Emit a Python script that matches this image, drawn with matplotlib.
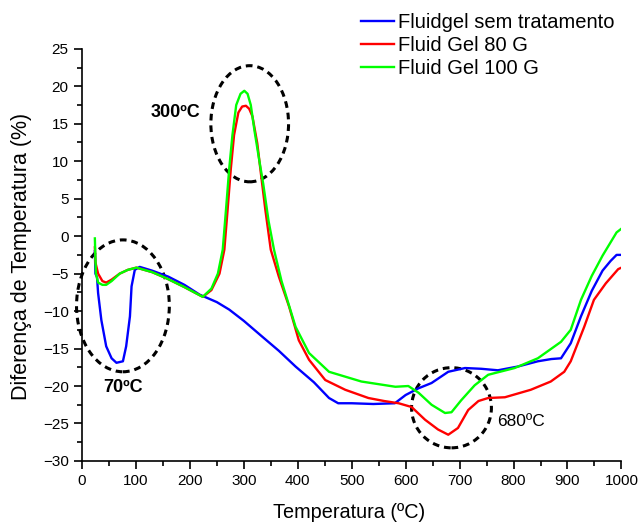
import matplotlib.pyplot as plt
from matplotlib.patches import Ellipse
from matplotlib.ticker import MultipleLocator

plt.rcParams['font.family'] = ['Liberation Sans', 'DejaVu Sans']

# Fluidgel sem tratamento
blueX = [24, 25, 28, 30, 36, 45, 55, 64, 76, 82, 89, 92, 98, 107, 130, 160, 190, 218, 250,
         273, 300, 334, 365, 396, 430, 458, 475, 500, 540, 580, 600, 624, 648, 679, 710,
         740, 771, 808, 845, 870, 888, 906, 925, 945, 965, 980, 991, 1000]
blueY = [-2.0, -5.0, -5.5, -7.6, -11.2, -14.7, -16.3, -16.9, -16.7, -14.7, -10.7, -6.7, -4.5,
         -4.1, -4.6, -5.4, -6.5, -7.8, -8.8, -9.8, -11.3, -13.4, -15.3, -17.4, -19.5, -21.6,
         -22.3, -22.3, -22.4, -22.3, -21.2, -20.3, -19.6, -18.1, -17.6, -17.7, -17.9, -17.4,
         -16.7, -16.4, -16.3, -14.3, -10.7, -7.3, -4.6, -3.3, -2.5, -2.5]

# Fluid Gel 80 G
redX = [24, 25, 30, 38, 45, 55, 70, 85, 101, 130, 156, 190, 224, 240, 255, 264, 270, 276,
        282, 290, 297, 304, 310, 316, 325, 331, 340, 350, 365, 384, 402, 421, 451, 488, 531,
        560, 587, 611, 636, 660, 679, 697, 716, 735, 753, 784, 832, 869, 894, 906, 931, 949,
        971, 994, 1000]
redY = [-1.5, -3.5, -5.0, -6.0, -6.2, -5.8, -5.0, -4.5, -4.2, -4.8, -5.6, -6.8, -8.1, -7.2,
        -5.0, -1.8, 3.5, 9.0, 13.5, 16.5, 17.3, 17.4, 17.0, 16.0, 12.4, 8.8, 3.5, -1.8, -5.4,
        -9.4, -13.9, -16.5, -19.2, -20.5, -21.6, -22.0, -22.3, -22.8, -24.5, -25.8, -26.5,
        -25.6, -23.2, -22.0, -21.6, -21.5, -20.5, -19.4, -18.1, -16.7, -12.1, -8.5, -6.3,
        -4.4, -4.2]

# Fluid Gel 100 G
greenX = [24, 25, 26, 30, 38, 45, 55, 70, 85, 101, 130, 156, 190, 224, 240, 252, 261, 267,
          273, 279, 286, 294, 301, 307, 313, 320, 329, 336, 346, 356, 370, 396, 421, 458, 518,
          581, 605, 624, 648, 673, 685, 703, 728, 753, 802, 845, 888, 906, 925, 945, 965, 991,
          1000]
greenY = [-0.3, -3.0, -5.0, -6.2, -6.5, -6.5, -6.0, -5.0, -4.5, -4.2, -4.8, -5.6, -6.8, -8.1,
          -7.0, -5.0, -1.8, 3.5, 9.0, 13.5, 17.5, 19.0, 19.4, 19.0, 17.5, 14.0, 10.0, 7.0, 2.0,
          -1.8, -6.0, -12.1, -15.6, -18.1, -19.4, -20.1, -20.0, -20.9, -22.5, -23.6, -23.5,
          -21.9, -19.9, -18.5, -17.6, -16.3, -14.1, -12.5, -8.5, -5.3, -2.6, 0.5, 1.0]

labels = ['Fluidgel sem tratamento', 'Fluid Gel 80 G', 'Fluid Gel 100 G']

# highlighted regions: (center x, center y, width, height, text, text x, text y, weight, size)
marks = [(76, -9.3, 172, 17.6, '70ºC', 76, -20.2, 'bold', 13),
         (311, 15.0, 144, 15.5, '300ºC', 173, 16.5, 'bold', 13),
         (685, -22.9, 148, 10.7, '680ºC', 814, -24.8, 'normal', 12.5)]

fig = plt.figure(figsize=(6.4, 5.25), dpi=100)
ax = fig.add_axes([0.128, 0.122, 0.843, 0.785])

ax.plot(blueX, blueY, color='#0000ff', lw=1.7, label=labels[0])
ax.plot(redX, redY, color='#ff0000', lw=1.7, label=labels[1])
ax.plot(greenX, greenY, color='#00ff00', lw=1.7, label=labels[2])

for cx, cy, w, h, txt, tx, ty, wt, fs in marks:
    e = Ellipse((cx, cy), w, h, fill=False, ec='black', lw=2.2, ls=(0, (2.2, 1.6)), clip_on=False)
    ax.add_patch(e)
    ax.text(tx, ty, txt, fontsize=fs, fontweight=wt, ha='center', va='center')

ax.set_xlim(0, 1000)
ax.set_ylim(-30, 25)
ax.xaxis.set_major_locator(MultipleLocator(100))
ax.xaxis.set_minor_locator(MultipleLocator(50))
ax.yaxis.set_major_locator(MultipleLocator(5))
ax.yaxis.set_minor_locator(MultipleLocator(2.5))
ax.tick_params(which='major', direction='out', length=6, width=1.2, labelsize=11)
ax.tick_params(which='minor', direction='out', length=3.5, width=1.2)
ax.spines['top'].set_visible(False)
ax.spines['right'].set_visible(False)
ax.spines['left'].set_linewidth(1.2)
ax.spines['bottom'].set_linewidth(1.2)

ax.set_xlabel('Temperatura (ºC)', fontsize=14.3, va='center')
ax.set_ylabel('Diferença de Temperatura (%)', fontsize=15.5, va='center')
ax.xaxis.set_label_coords(0.495, -0.124)
ax.yaxis.set_label_coords(-0.112, 0.497)

fig.legend(loc='upper left', bbox_to_anchor=(0.535, 1.01), frameon=False, fontsize=14.5,
           handlelength=1.65, handletextpad=0.2, labelspacing=0.2)

plt.savefig('out.png')
